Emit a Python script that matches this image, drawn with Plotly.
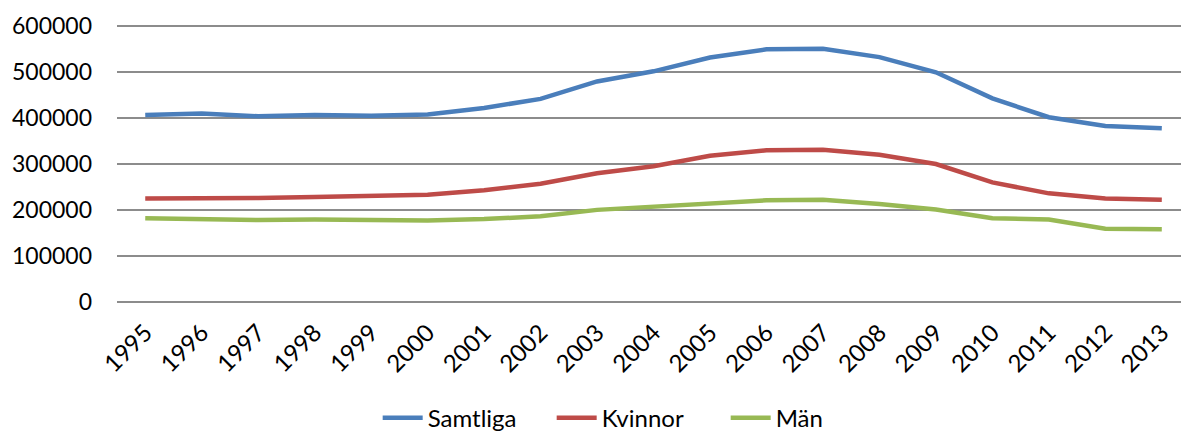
import plotly.graph_objects as go

years = [str(y) for y in range(1995, 2014)]
samtliga = [407000, 410000, 404000, 407000, 405000, 408000, 422000, 442000, 480000, 502000,
            532000, 550000, 551000, 533000, 500000, 443000, 402000, 383000, 378000]
kvinnor = [225000, 225000, 226000, 228000, 230000, 233000, 243000, 257000, 280000, 295000,
           318000, 330000, 331000, 320000, 300000, 260000, 236000, 225000, 222000]
man = [182000, 180000, 178000, 179000, 177000, 177000, 180000, 186000, 200000, 207000,
       216000, 221000, 222000, 213000, 201000, 182000, 179000, 159000, 158000]

series = [("Samtliga", samtliga, "#4A7EBB"), ("Kvinnor", kvinnor, "#BE4B48"), ("Män", man, "#98B954")]

fig = go.Figure()
for name, vals, col in series:
    fig.add_trace(go.Scatter(x=years, y=vals, name=name, mode="lines",
                             line=dict(color=col, width=4.5)))

fam = "Lato, 'Open Sans', sans-serif"
font = dict(family=fam, size=23, color="#000000")
fig.update_layout(
    width=1181, height=433,
    margin=dict(l=117, r=0, t=25, b=130, autoexpand=False),
    paper_bgcolor="white", plot_bgcolor="white",
    font=font,
    showlegend=True,
    legend=dict(orientation="h", xanchor="left", x=0.245, yanchor="bottom", y=-0.495,
                font=dict(family=fam, size=24, color="#000000"),
                itemwidth=40, entrywidth=119, bgcolor="rgba(0,0,0,0)"),
)
fig.update_xaxes(type="category", range=[-0.5, 18.34], tickangle=-45, showgrid=False,
                 showline=False, ticks="", tickfont=dict(family=fam, size=24, color="#000000"),
                 zeroline=False, ticklabelstandoff=10, automargin=False)
fig.update_yaxes(range=[-3000, 603000], dtick=100000, showgrid=True, gridcolor="#8C8C8C",
                 gridwidth=1.5, zeroline=False,
                 showline=False, ticks="", tickformat="d", automargin=False,
                 tickfont=font, ticklabelstandoff=24)

fig.write_html("out.html")
